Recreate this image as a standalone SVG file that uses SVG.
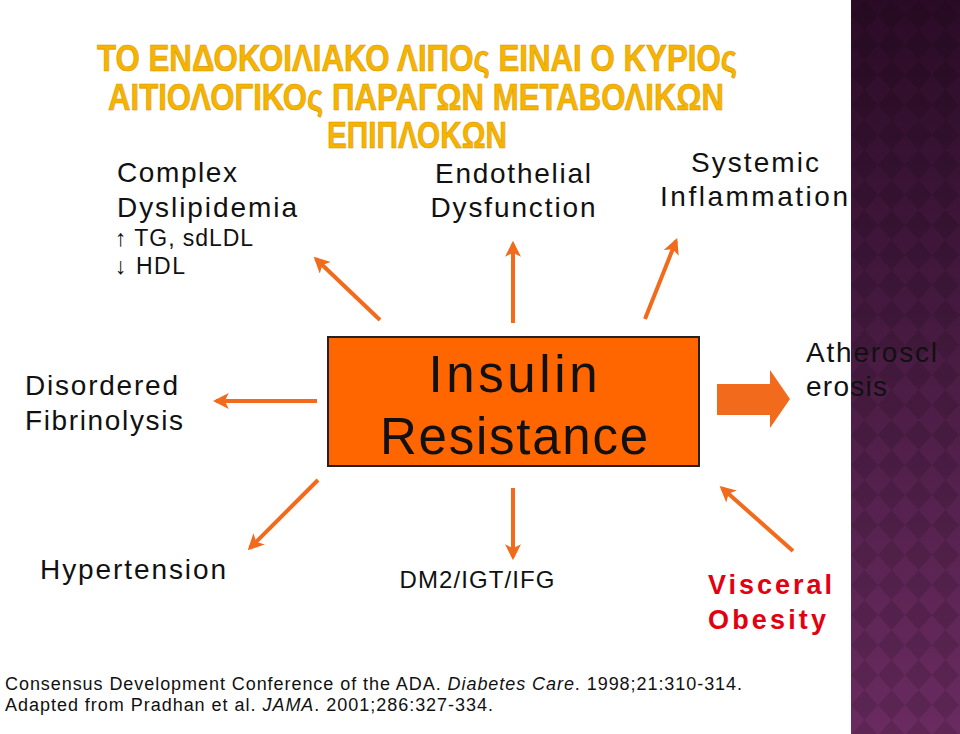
<svg xmlns="http://www.w3.org/2000/svg" width="960" height="734" viewBox="0 0 960 734">
<defs>
<linearGradient id="band" x1="0" y1="0" x2="0" y2="1">
<stop offset="0" stop-color="#2a0b26"/>
<stop offset="0.5" stop-color="#4a1c44"/>
<stop offset="1" stop-color="#6a2b60"/>
</linearGradient>
<pattern id="dia" x="851" y="0" width="27" height="30" patternUnits="userSpaceOnUse">
<path d="M13.5 0 L27 15 L13.5 30 L0 15 Z" fill="#000" fill-opacity="0.12"/>
</pattern>
<marker id="ah" viewBox="0 0 10 10" refX="8" refY="5" markerWidth="4" markerHeight="4" orient="auto" markerUnits="strokeWidth">
<path d="M0 0 L10 5 L0 10 L2.5 5 Z" fill="#f26a1b"/>
</marker>
<style>
.t{font-family:"Liberation Sans",Arial,sans-serif;fill:#111}
.title{font-family:"Liberation Sans Narrow","Liberation Sans",Arial,sans-serif;font-weight:bold;fill:#f6b400;stroke:#d99500;stroke-width:0.6;text-anchor:middle}
.c{stroke:#f26a1b;stroke-width:4;fill:none;marker-end:url(#ah)}
.v{fill:#e3000f;font-weight:bold}
</style>
</defs>
<rect width="960" height="734" fill="#fff"/>
<rect x="851" y="0" width="109" height="734" fill="url(#band)"/>
<rect x="851" y="0" width="109" height="734" fill="url(#dia)"/>

<g id="title">
<text class="title" x="417" y="71" font-size="37" textLength="640" lengthAdjust="spacingAndGlyphs">ΤΟ ΕΝΔΟΚΟΙΛΙΑΚΟ ΛΙΠΟς ΕΙΝΑΙ Ο ΚΥΡΙΟς</text>
<text class="title" x="416" y="110" font-size="37" textLength="616" lengthAdjust="spacingAndGlyphs">ΑΙΤΙΟΛΟΓΙΚΟς ΠΑΡΑΓΩΝ ΜΕΤΑΒΟΛΙΚΩΝ</text>
<text class="title" x="417" y="148" font-size="37" textLength="180" lengthAdjust="spacingAndGlyphs">ΕΠΙΠΛΟΚΩΝ</text>
</g>

<g id="connectors">
<line class="c" x1="380" y1="320" x2="316" y2="259"/>
<line class="c" x1="513" y1="323" x2="513" y2="244"/>
<line class="c" x1="645" y1="319" x2="676" y2="241"/>
<line class="c" x1="317" y1="401" x2="216" y2="401"/>
<line class="c" x1="318" y1="480" x2="250" y2="548"/>
<line class="c" x1="513" y1="488" x2="513" y2="557"/>
<line class="c" x1="793" y1="551" x2="722" y2="488"/>
<path d="M717 384 H770 V370 L790 399 L770 428 V415 H717 Z" fill="#f26a1b"/>
</g>

<g id="dyslipidemia">
<text class="t" x="117" y="182" font-size="28" textLength="120">Complex</text>
<text class="t" x="117" y="217" font-size="28" textLength="180">Dyslipidemia</text>
<text class="t" x="115" y="246" font-size="23" textLength="138">↑ TG, sdLDL</text>
<text class="t" x="115" y="274" font-size="23" textLength="70">↓ HDL</text>
</g>
<g id="endothelial">
<text class="t" x="513" y="183" font-size="28" text-anchor="middle" textLength="156">Endothelial</text>
<text class="t" x="513" y="217" font-size="28" text-anchor="middle" textLength="165">Dysfunction</text>
</g>
<g id="inflammation">
<text class="t" x="755" y="172" font-size="28" text-anchor="middle" textLength="128">Systemic</text>
<text class="t" x="754" y="206" font-size="28" text-anchor="middle" textLength="188">Inflammation</text>
</g>
<g id="fibrinolysis">
<text class="t" x="25" y="395" font-size="28" textLength="153">Disordered</text>
<text class="t" x="25" y="430" font-size="28" textLength="158">Fibrinolysis</text>
</g>
<g id="insulin">
<rect x="328" y="337" width="371" height="129" fill="#ff6600" stroke="#222" stroke-width="2"/>
<text class="t" x="513" y="392" font-size="51" text-anchor="middle" textLength="169">Insulin</text>
<text class="t" x="514" y="454" font-size="51" text-anchor="middle" textLength="268">Resistance</text>
</g>
<g id="atherosclerosis">
<text class="t" x="806" y="362" font-size="28" textLength="131">Atheroscl</text>
<text class="t" x="806" y="396" font-size="28" textLength="81">erosis</text>
</g>
<g id="hypertension">
<text class="t" x="40" y="579" font-size="28" textLength="186">Hypertension</text>
</g>
<g id="dm2">
<text class="t" x="477" y="588" font-size="24" text-anchor="middle" textLength="155">DM2/IGT/IFG</text>
</g>
<g id="visceral">
<text class="t v" x="708" y="594" font-size="27" textLength="124">Visceral</text>
<text class="t v" x="708" y="629" font-size="27" textLength="118">Obesity</text>
</g>
<g id="footer">
<text class="t" x="5" y="690" font-size="18" textLength="737">Consensus Development Conference of the ADA. <tspan font-style="italic">Diabetes Care</tspan>. 1998;21:310-314.</text>
<text class="t" x="5" y="711" font-size="18" textLength="488">Adapted from Pradhan et al. <tspan font-style="italic">JAMA</tspan>. 2001;286:327-334.</text>
</g>
</svg>
